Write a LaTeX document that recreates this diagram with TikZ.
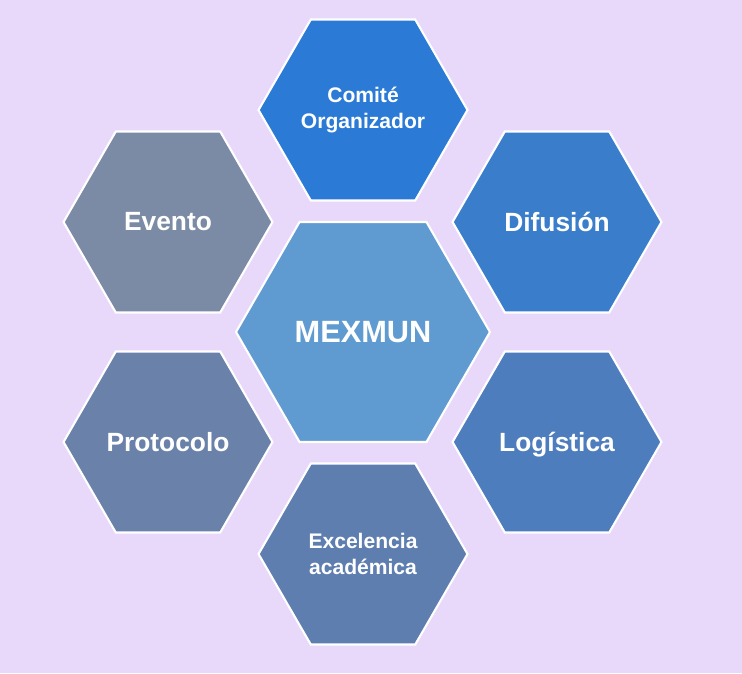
\documentclass[tikz,border=0pt]{standalone}
\usepackage{fontspec}
\setmainfont{Liberation Sans}
\usetikzlibrary{shapes.geometric}

\definecolor{fondo}{HTML}{E8D8FA}
\definecolor{cMex}{HTML}{5F9BD0}
\definecolor{cOrg}{HTML}{2B7BD6}
\definecolor{cDif}{HTML}{3A7ECB}
\definecolor{cLog}{HTML}{4D7DBC}
\definecolor{cExc}{HTML}{5E7EB0}
\definecolor{cPro}{HTML}{6A82AA}
\definecolor{cEve}{HTML}{7B8AA5}

\begin{document}
\begin{tikzpicture}[x=0.02cm,y=-0.02cm,hex/.style={regular polygon,regular polygon sides=6,draw=white,line width=1.2pt,inner sep=0pt,outer sep=0pt,minimum size=4.18cm,text=white,font=\bfseries\fontsize{15}{18}\selectfont,align=center},hex2/.style={hex,font=\bfseries\fontsize{12}{14.5}\selectfont}]
\fill[fondo] (0,0) rectangle (742,673);
\useasboundingbox (0,0) rectangle (742,673);
\node[hex,fill=cMex,minimum size=5.08cm,font=\bfseries\fontsize{17.5}{20}\selectfont] (mex) at (363,332) {MEXMUN};
\node[hex2,fill=cOrg] (org) at (363,110) {Comité\\Organizador};
\node[hex,fill=cDif] (dif) at (557,222) {Difusión};
\node[hex,fill=cLog,text depth=0pt] (log) at (557,442) {Logística};
\node[hex2,fill=cExc] (exc) at (363,554) {Excelencia\\académica};
\node[hex,fill=cPro] (pro) at (168,442) {Protocolo};
\node[hex,fill=cEve] (eve) at (168,222) {Evento};
\end{tikzpicture}
\end{document}
